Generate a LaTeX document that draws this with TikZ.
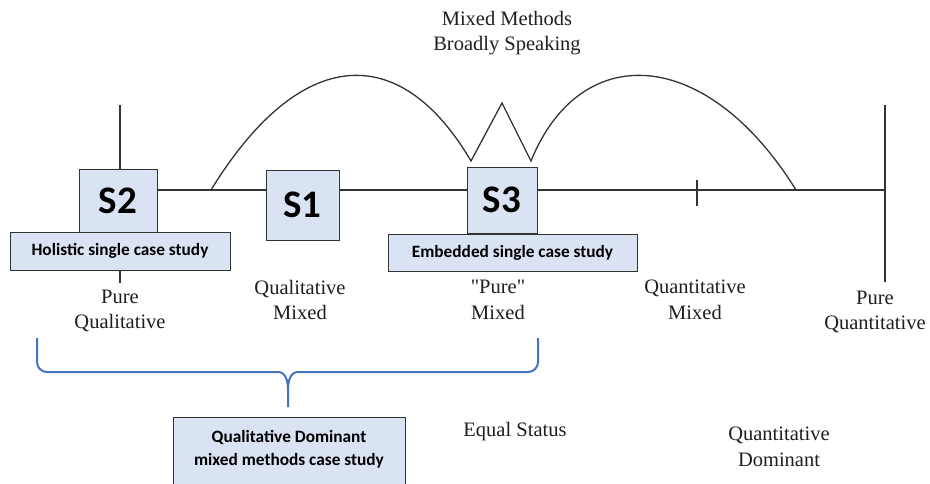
\documentclass[tikz,border=0pt]{standalone}
\usepackage{fontspec}
\setmainfont{Liberation Serif}[Ligatures=TeXOff]
\newfontfamily\calib{Carlito}
\definecolor{boxblue}{HTML}{DAE3F3}
\definecolor{braceblue}{HTML}{4472C4}
\definecolor{inkgray}{HTML}{333333}
\begin{document}
\begin{tikzpicture}[x=1pt,y=-1pt,
  axisline/.style={draw=inkgray, line width=1.3pt},
  sbox/.style={draw=inkgray, line width=1pt, fill=boxblue, text=black,
    font=\calib\bfseries\fontsize{39}{40}\selectfont, inner sep=0pt},
  lbox/.style={draw=inkgray, line width=1pt, fill=boxblue, text=black,
    font=\calib\bfseries\fontsize{17.3}{23}\selectfont, inner sep=0pt, align=center},
  lab/.style={font=\fontsize{20.5}{25.5}\selectfont, align=center, inner sep=0pt, text=black!88},
  bracestyle/.style={draw=braceblue, line width=2pt, line join=round}]
\useasboundingbox (0,0) rectangle (930,483);
\clip (0,0) rectangle (930,483);

% axis coordinates
\coordinate (Ltop) at (120,105);
\coordinate (L) at (120,190);
\coordinate (Lbot) at (120,283);
\coordinate (Rtop) at (885,105);
\coordinate (R) at (885,190);
\coordinate (Rbot) at (885,282);
\coordinate (tickT) at (697,180);
\coordinate (tickB) at (697,206);
\coordinate (a1) at (211,190);
\coordinate (a2) at (471,161);
\coordinate (zz) at (502,103);
\coordinate (a3) at (531,161);
\coordinate (a4) at (796,190);

\draw[axisline] (Ltop) -- (Lbot);
\draw[axisline] (Rtop) -- (Rbot);
\draw[axisline] (L) -- (R);
\draw[axisline] (tickT) -- (tickB);
\draw[axisline] (a1) .. controls (300,45) and (400,40) .. (a2)
  -- (zz) -- (a3) .. controls (580,40) and (706,45) .. (a4);

% labels
\node[lab] (mm) at (507,33) {Mixed Methods\\Broadly Speaking};
\node[lab] (pql) at (120,311) {Pure\\Qualitative};
\node[lab] (qlm) at (300,300) {Qualitative\\Mixed};
\node[lab] (pm) at (498,300) {"Pure"\\Mixed};
\node[lab] (qnm) at (695,300) {Quantitative\\Mixed};
\node[lab] (pqn) at (875,312) {Pure\\Quantitative};
\node[lab] (eq) at (515,432) {Equal Status};
\node[lab] (qnd) at (779,447) {Quantitative\\Dominant};

% boxes
\node[sbox, minimum width=78pt, minimum height=63pt] (s2) at (118,200.5) {S2};
\node[sbox, minimum width=73pt, minimum height=70pt] (s1) at (302.5,205) {S1};
\node[sbox, minimum width=70pt, minimum height=66pt] (s3) at (502,200) {S3};
\node[lbox, minimum width=220pt, minimum height=38pt] (hol) at (120,251) {Holistic single case study};
\node[lbox, minimum width=249pt, minimum height=37pt] (emb) at (512.5,252.5) {Embedded single case study};

% brace
\coordinate (bl) at (37,338);
\coordinate (br) at (538,338);
\coordinate (btip) at (288,407);
\draw[bracestyle] (bl) -- (37,362) to[out=-90,in=180] (47,372) -- (278,372)
  to[out=0,in=90] (288,390) -- (btip);
\draw[bracestyle] (288,390) to[out=90,in=180] (298,372) -- (528,372)
  to[out=0,in=-90] (538,362) -- (br);

\node[lbox, anchor=north, minimum width=232pt, inner ysep=13pt] (dom) at (289,417)
  {Qualitative Dominant\\mixed methods case study\\\rule{0pt}{30pt}};
\end{tikzpicture}
\end{document}
